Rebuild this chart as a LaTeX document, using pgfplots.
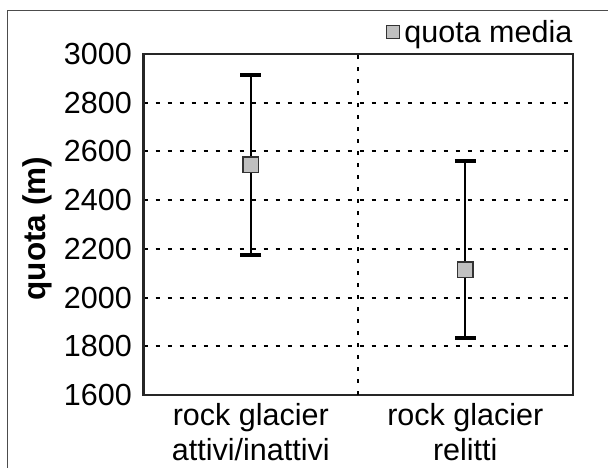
\documentclass[border=0pt]{standalone}
\usepackage{fontspec}
\setmainfont{Liberation Sans}
\usepackage{pgfplots}
\pgfplotsset{compat=1.18}
\definecolor{markfill}{HTML}{C0C0C0}
\definecolor{markdraw}{HTML}{333333}
\begin{document}
\begin{tikzpicture}
\useasboundingbox (0,0) rectangle (608bp,468bp);
\fill[white] (0,0) rectangle (608bp,468bp);
\draw[line width=1.5bp, black!70] (7.3bp,-2bp) -- (7.3bp,457.3bp) -- (612bp,457.3bp);
\begin{axis}[
  at={(143.5bp,73bp)}, anchor=south west,
  scale only axis, width=429bp, height=341bp,
  xmin=-0.5, xmax=1.5, ymin=1600, ymax=3000,
  xtick={0,1},
  xticklabels={{rock glacier\\attivi/inattivi},{rock glacier\\relitti}},
  ytick={1600,1800,...,3000},
  major tick length=0pt,
  axis on top,
  axis line style={line width=2bp, black!85},
  ymajorgrids,
  grid style={line width=2bp, black, dash pattern=on 4bp off 8bp},
  extra x ticks={0.5}, extra x tick labels={},
  extra x tick style={grid=major},
  font=\fontsize{30.5bp}{35bp}\selectfont,
  tick label style={font=\fontsize{30.5bp}{35bp}\selectfont},
  /pgf/number format/assume math mode=true,
  /pgf/number format/1000 sep={},
  yticklabel style={anchor=east, inner sep=0pt, xshift=-11.5bp},
  xticklabel style={anchor=north, inner sep=0pt, yshift=-8bp, align=center},
  ylabel={\fontsize{31.5bp}{36bp}\selectfont\bfseries quota (m)},
  ylabel style={at={(axis description cs:-0.2273,0.488)}, anchor=base, inner sep=0pt},
  legend style={draw=none, fill=none, at={(axis description cs:1,1)}, anchor=south east,
    yshift=10bp, inner sep=0pt, font=\fontsize{30.5bp}{35bp}\selectfont,
    nodes={inner sep=0pt}},
  legend image code/.code={\path[draw=none, fill=none] (0bp,-6.5bp) rectangle (18bp,6.5bp); \draw[solid, line width=1.3bp, draw=markdraw, fill=markfill] (0bp,-6.5bp) rectangle (13bp,6.5bp);},
]
\addplot[only marks, mark=square*, mark size=7.75bp,
  mark options={draw=markdraw, fill=markfill, line width=1.5bp, solid},
  error bars/.cd, y dir=both, y explicit,
  error bar style={line width=2bp, black, solid},
  error mark options={rotate=90, mark size=10.5bp, line width=4bp, black, solid}]
coordinates {
  (0,2546) += (0,369) -= (0,371)
  (1,2114) += (0,448) -= (0,281)
};
\addlegendentry{quota media}
\end{axis}
\end{tikzpicture}
\end{document}
